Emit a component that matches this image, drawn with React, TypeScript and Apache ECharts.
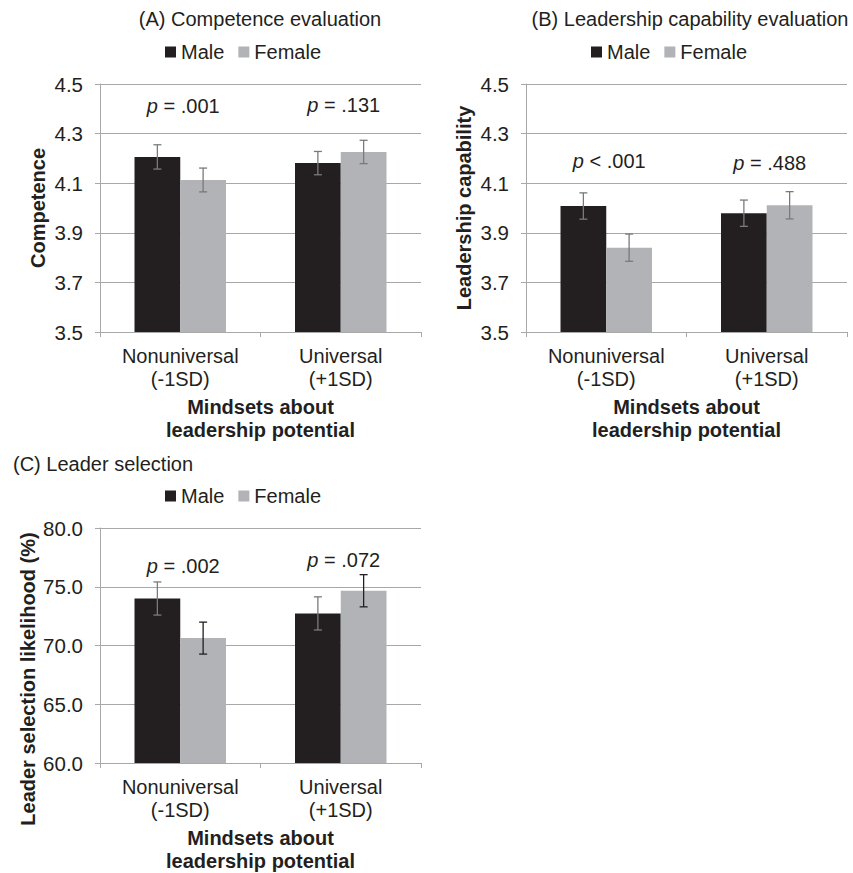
import React, { useEffect, useRef } from "react";
import * as echarts from "echarts";

// ---------- data ----------
const categories = ["Nonuniversal\n(-1SD)", "Universal\n(+1SD)"];
const seriesNames = ["Male", "Female"];

// (A) Competence evaluation
const compMale = [4.206, 4.181];
const compMaleSE = [0.049, 0.047];
const compFemale = [4.113, 4.226];
const compFemaleSE = [0.048, 0.047];
const compP = ["= .001", "= .131"];
const compPY = [4.41, 4.415];
const compTicks = [3.5, 4.5, 0.2];

// (B) Leadership capability evaluation
const leadMale = [4.008, 3.979];
const leadMaleSE = [0.053, 0.053];
const leadFemale = [3.84, 4.011];
const leadFemaleSE = [0.055, 0.055];
const leadP = ["< .001", "= .488"];
const leadPY = [4.19, 4.18];
const leadTicks = [3.5, 4.5, 0.2];

// (C) Leader selection
const selMale = [74.0, 72.73];
const selMaleSE = [1.41, 1.41];
const selFemale = [70.63, 74.66];
const selFemaleSE = [1.36, 1.37];
const selP = ["= .002", "= .072"];
const selPY = [76.75, 77.25];
const selTicks = [60, 80, 5];

const titles = [
  "(A) Competence evaluation",
  "(B) Leadership capability evaluation",
  "(C) Leader selection",
];
const yNames = ["Competence", "Leadership capability", "Leader selection likelihood (%)"];
const xName = "Mindsets about\nleadership potential";

// ---------- style ----------
const FONT = "'Liberation Sans', Arial, Helvetica, sans-serif";
const TEXT = "#231f20";
const MALE_C = "#231f20";
const FEMALE_C = "#b1b3b6";
const GRID_C = "#a8a8a8";
const ERR_GRAY = "#7a7a7a";
const CAT_GAP = 0.43;
const BAR_FRAC = (1 - CAT_GAP) / 2;

export default function App() {
  const ref = useRef<HTMLDivElement>(null);

  useEffect(() => {
    document.body.style.margin = "0";
    if (!ref.current) return;
    const chart = echarts.init(ref.current, null, { renderer: "svg" });

    const panels = [
      { male: compMale, maleSE: compMaleSE, female: compFemale, femaleSE: compFemaleSE, p: compP, pY: compPY, ticks: compTicks, grid: { left: 100, right: 432, top: 84, bottom: 541 }, dec: 1, errM: ERR_GRAY, errF: ERR_GRAY },
      { male: leadMale, maleSE: leadMaleSE, female: leadFemale, femaleSE: leadFemaleSE, p: leadP, pY: leadPY, ticks: leadTicks, grid: { left: 526, right: 6, top: 84, bottom: 541 }, dec: 1, errM: ERR_GRAY, errF: ERR_GRAY },
      { male: selMale, maleSE: selMaleSE, female: selFemale, femaleSE: selFemaleSE, p: selP, pY: selPY, ticks: selTicks, grid: { left: 100, right: 432, top: 528, bottom: 110 }, dec: 1, errM: ERR_GRAY, errF: TEXT },
    ];

    const errRender = (sign: number, color: string) => (params: any, api: any) => {
      const cat = api.value(0);
      const mean = api.value(1);
      const se = api.value(2);
      const band = api.size([1, 0])[0];
      const off = (band * BAR_FRAC) / 2 * sign;
      const top = api.coord([cat, mean + se]);
      const bot = api.coord([cat, mean - se]);
      const x = top[0] + off;
      const st = { stroke: color, lineWidth: 1.3 };
      return {
        type: "group",
        children: [
          { type: "line", shape: { x1: x, y1: top[1], x2: x, y2: bot[1] }, style: st },
          { type: "line", shape: { x1: x - 4, y1: top[1], x2: x + 4, y2: top[1] }, style: st },
          { type: "line", shape: { x1: x - 4, y1: bot[1], x2: x + 4, y2: bot[1] }, style: st },
        ],
      };
    };

    const grids: any[] = [];
    const xAxes: any[] = [];
    const yAxes: any[] = [];
    const series: any[] = [];

    panels.forEach((pn, i) => {
      grids.push({ ...pn.grid, containLabel: false });
      xAxes.push({
        gridIndex: i,
        type: "category",
        data: categories,
        axisLine: { lineStyle: { color: GRID_C, width: 1 } },
        axisTick: { show: true, length: 5, lineStyle: { color: GRID_C } },
        axisLabel: { fontSize: 20, lineHeight: 23, color: TEXT, fontFamily: FONT, margin: 12, interval: 0 },
        name: xName,
        nameLocation: "middle",
        nameGap: 63,
        nameTextStyle: { fontSize: 20, fontWeight: "bold", lineHeight: 23, color: TEXT, fontFamily: FONT },
      });
      yAxes.push({
        gridIndex: i,
        type: "value",
        min: pn.ticks[0],
        max: pn.ticks[1],
        interval: pn.ticks[2],
        axisLine: { show: true, lineStyle: { color: GRID_C, width: 1 } },
        axisTick: { show: true, length: 5, lineStyle: { color: GRID_C } },
        splitLine: { show: true, lineStyle: { color: GRID_C, width: 1 } },
        axisLabel: {
          fontSize: 20.5,
          color: TEXT,
          fontFamily: FONT,
          margin: 17,
          formatter: (v: number) => v.toFixed(pn.dec),
        },
        name: i < 2 ? yNames[i] : "",
        nameLocation: "middle",
        nameGap: 52,
        nameTextStyle: { fontSize: 20, fontWeight: "bold", color: TEXT, fontFamily: FONT },
      });
      series.push({
        type: "bar",
        name: seriesNames[0],
        xAxisIndex: i,
        yAxisIndex: i,
        data: pn.male,
        itemStyle: { color: MALE_C },
        barGap: "0%",
        barCategoryGap: CAT_GAP * 100 + "%",
      });
      series.push({
        type: "bar",
        name: seriesNames[1],
        xAxisIndex: i,
        yAxisIndex: i,
        data: pn.female,
        itemStyle: { color: FEMALE_C },
        barGap: "0%",
        barCategoryGap: CAT_GAP * 100 + "%",
      });
      series.push({
        type: "custom",
        name: "errMale" + i,
        xAxisIndex: i,
        yAxisIndex: i,
        data: pn.male.map((v, k) => [k, v, pn.maleSE[k]]),
        renderItem: errRender(-1, pn.errM),
        z: 5,
      });
      series.push({
        type: "custom",
        name: "errFemale" + i,
        xAxisIndex: i,
        yAxisIndex: i,
        data: pn.female.map((v, k) => [k, v, pn.femaleSE[k]]),
        renderItem: errRender(1, pn.errF),
        z: 5,
      });
      series.push({
        type: "custom",
        name: "pval" + i,
        xAxisIndex: i,
        yAxisIndex: i,
        data: pn.pY.map((v, k) => [k, v]),
        renderItem: (params: any, api: any) => {
          const c = api.coord([api.value(0), api.value(1)]);
          return {
            type: "text",
            x: c[0] + 3,
            y: c[1],
            style: {
              text: "{i|p}{n| " + pn.p[params.dataIndex] + "}",
              rich: {
                i: { fontStyle: "italic", fontSize: 20, fontFamily: FONT, fill: TEXT },
                n: { fontSize: 20, fontFamily: FONT, fill: TEXT },
              },
              fontSize: 20,
              fontFamily: FONT,
              fill: TEXT,
              align: "center",
              verticalAlign: "middle",
            },
          };
        },
        z: 6,
      });
    });

    const legendBase = {
      data: seriesNames,
      icon: "rect",
      itemWidth: 11,
      itemHeight: 11,
      itemGap: 14,
      selectedMode: false,
      padding: 0,
      textStyle: { fontSize: 20, color: TEXT, fontFamily: FONT },
    };
    const titleStyle = { fontSize: 20, fontWeight: "normal", color: TEXT, fontFamily: FONT };

    chart.setOption({
      animation: false,
      textStyle: { fontFamily: FONT },
      title: [
        { text: titles[0], left: 260, textAlign: "center", top: 9, padding: 0, textStyle: titleStyle },
        { text: titles[1], left: 690, textAlign: "center", top: 9, padding: 0, textStyle: titleStyle },
        { text: titles[2], left: 13, textAlign: "left", top: 454, padding: 0, textStyle: titleStyle },
      ],
      legend: [
        { ...legendBase, left: 165, top: 42 },
        { ...legendBase, left: 591, top: 42 },
        { ...legendBase, left: 165, top: 486 },
      ],
      grid: grids,
      xAxis: xAxes,
      yAxis: yAxes,
      series,
      graphic: [
        {
          type: "text",
          x: 28,
          y: 679,
          rotation: Math.PI / 2,
          style: {
            text: yNames[2],
            fontSize: 20,
            fontWeight: "bold",
            fontFamily: FONT,
            fill: TEXT,
            align: "center",
            verticalAlign: "middle",
          },
        },
      ],
    });

    return () => chart.dispose();
  }, []);

  return <div ref={ref} style={{ width: 853, height: 873 }} />;
}
